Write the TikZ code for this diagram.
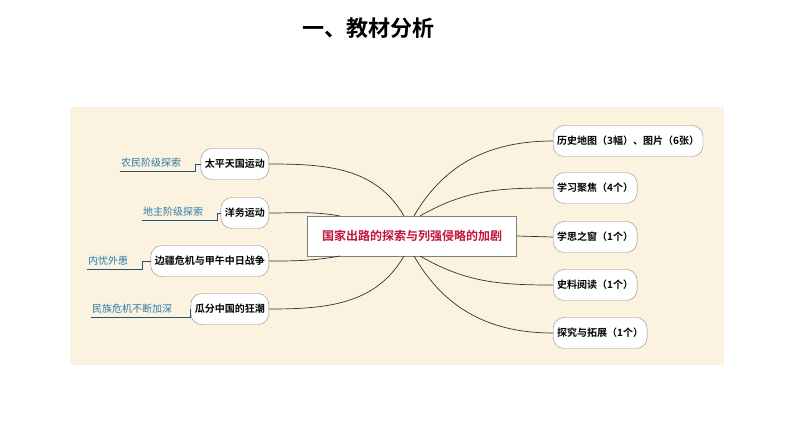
\documentclass[tikz,border=0pt]{standalone}
\usepackage{fontspec}
\setmainfont{Noto Sans CJK SC}[BoldFont={Noto Sans CJK SC Bold}]
\usetikzlibrary{positioning}
\definecolor{panel}{HTML}{FBF3E0}
\definecolor{titlered}{HTML}{C0163A}
\definecolor{tagblue}{HTML}{2A7BA8}
\tikzset{
  topic/.style={draw=black!45, fill=white, rounded corners=11pt, minimum height=31pt, inner xsep=4pt, font=\fontsize{10}{11}\selectfont\bfseries},
  tag/.style={text=tagblue, font=\fontsize{10}{11}\selectfont, inner sep=1pt},
  link/.style={black!80, line width=0.7pt}
}
\begin{document}
\begin{tikzpicture}[x=1pt,y=-1pt]
\useasboundingbox (0,0) rectangle (794,447);
%% panel and title
\fill[panel] (70,107) rectangle (724,365);
\node (title) at (368,28) {\fontsize{22}{24}\selectfont\bfseries 一、教材分析};
%% centre node
\node[draw=black!50, fill=white, minimum width=209pt, minimum height=40pt, inner xsep=2pt, text=titlered, font=\fontsize{12}{13}\selectfont\bfseries] (core) at (412,236) {国家出路的探索与列强侵略的加剧};
%% left topics
\node[topic, anchor=east] (taiping) at (269,164) {太平天国运动};
\node[topic, anchor=east] (yangwu) at (269,213) {洋务运动};
\node[topic, anchor=east] (bianjiang) at (269,261) {边疆危机与甲午中日战争};
\node[topic, anchor=east] (guafen) at (269,309) {瓜分中国的狂潮};
%% right topics
\node[topic, anchor=west] (ditu) at (553,141) {历史地图（3幅）、图片（6张）};
\node[topic, anchor=west] (jujiao) at (553,188) {学习聚焦（4个）};
\node[topic, anchor=west] (sizhi) at (553,237) {学思之窗（1个）};
\node[topic, anchor=west] (shiliao) at (553,285) {史料阅读（1个）};
\node[topic, anchor=west] (tanjiu) at (553,333) {探究与拓展（1个）};
%% tags
\node[tag] (nongmin) at (151,163) {农民阶级探索};
\node[tag] (dizhu) at (173,212) {地主阶级探索};
\node[tag] (neiyou) at (108,261) {内忧外患};
\node[tag] (minzu) at (132,309) {民族危机不断加深};
\draw[tagblue!70!black, line width=0.5pt] (nongmin.south west) ++(0,2) -- ++(75,0) |- (taiping.west);
\draw[tagblue!70!black, line width=0.5pt] (dizhu.south west) ++(0,2) -- ++(75,0) |- (yangwu.west);
\draw[tagblue!70!black, line width=0.5pt] (neiyou.south west) ++(0,2) -- ++(55,0) |- (bianjiang.west);
\draw[tagblue!70!black, line width=0.5pt] (minzu.south west) ++(0,2) -- ++(99,0) |- (guafen.west);
%% branches
\draw[link] (taiping.east) to[out=0, in=120] (404,216);
\draw[link] (yangwu.east) to[out=0, in=170] (340,216);
\draw[link] (bianjiang.east) to[out=0, in=190] (340,256);
\draw[link] (guafen.east) to[out=0, in=240] (404,256);
\draw[link] (414,216) to[out=60, in=180] (ditu.west);
\draw[link] (420,216) to[out=30, in=180] (jujiao.west);
\draw[link] (core.east) -- (sizhi.west);
\draw[link] (420,256) to[out=-30, in=180] (shiliao.west);
\draw[link] (414,256) to[out=-60, in=180] (tanjiu.west);
\end{tikzpicture}
\end{document}
